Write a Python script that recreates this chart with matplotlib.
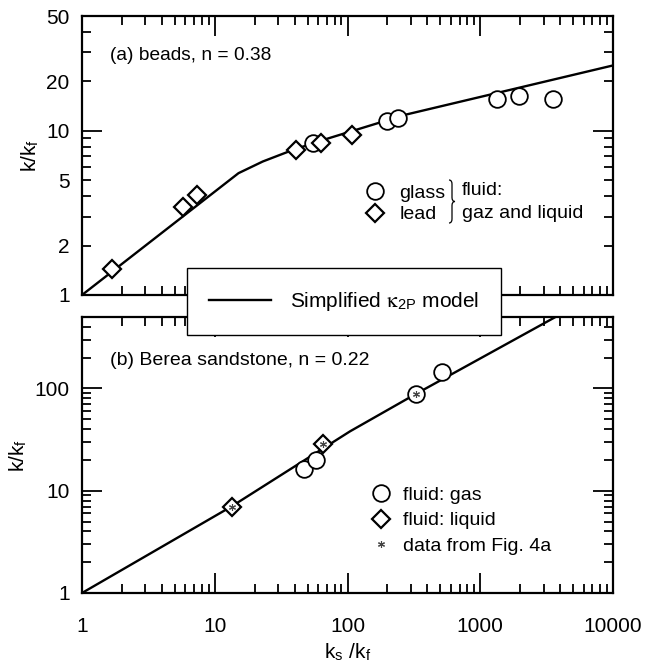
import matplotlib
matplotlib.use("Agg")
import matplotlib.pyplot as plt
from matplotlib.lines import Line2D
from matplotlib.path import Path
from matplotlib.patches import PathPatch
from matplotlib.ticker import FixedLocator, FuncFormatter, NullFormatter

plt.rcParams['font.family'] = ['Liberation Sans', 'DejaVu Sans']
plt.rcParams['mathtext.fontset'] = 'custom'
plt.rcParams['mathtext.rm'] = 'STIXGeneral'
plt.rcParams['mathtext.it'] = 'STIXGeneral:italic'
plt.rcParams['mathtext.sf'] = 'Liberation Sans'

# (a) beads, n = 0.38
glass_x = [54.7, 197, 239, 1330, 1960, 3550]
glass_y = [8.48, 11.4, 11.9, 15.7, 16.4, 15.7]
lead_x = [1.67, 5.73, 7.31, 40.7, 63.2, 108.7]
lead_y = [1.43, 3.45, 4.07, 7.59, 8.41, 9.46]
model_a_x = [1, 15.1, 23, 39, 72, 270, 10000]
model_a_y = [1, 5.52, 6.5, 7.66, 9.0, 12.5, 25]

# (b) Berea sandstone, n = 0.22
gas_x = [47, 57.6, 326, 512]
gas_y = [16.3, 19.8, 89.3, 145]
liquid_x = [13.4, 65]
liquid_y = [7.0, 28.9]
fig4a_x = [13.4, 65, 326]
fig4a_y = [7.0, 28.9, 89.3]
model_b_x = [1, 13.4, 104.5, 322, 3770, 10000]
model_b_y = [1, 7.03, 38.1, 87.4, 508, 1030]

x_ticks = [1, 10, 100, 1000, 10000]
x_ticklabels = ['1', '10', '100', '1000', '10000']

W, H = 646, 664
fig = plt.figure(figsize=(W / 100, H / 100), dpi=100)

def px_axes(l, t, r, b):
    return fig.add_axes([l / W, 1 - b / H, (r - l) / W, (b - t) / H])

ax1 = px_axes(82, 16, 613, 295)
ax2 = px_axes(82, 317, 613, 593)

FS_TICK = 15
FS_TXT = 14
mk = dict(linestyle='none', markerfacecolor='white', markeredgecolor='black')
circ = dict(marker='o', markersize=12, markeredgewidth=1.3)
diam = dict(marker='D', markersize=9, markeredgewidth=1.6)
star = dict(linestyle='none', marker=(6, 2, 0), markersize=5,
            markeredgewidth=0.8, color='#444444')


def minor_decades(lo, hi):
    vals = []
    d = lo
    while d < hi:
        for m in range(2, 10):
            v = m * d
            if v <= hi:
                vals.append(v)
        d *= 10
    return vals


def style_axes(ax, ylim, ymajor, ylabels_minor=()):
    ax.set_xscale('log')
    ax.set_yscale('log')
    ax.set_xlim(1, 10000)
    ax.set_ylim(*ylim)
    ax.xaxis.set_major_locator(FixedLocator(x_ticks))
    ax.xaxis.set_minor_locator(FixedLocator(minor_decades(1, 10000)))
    ax.xaxis.set_major_formatter(FuncFormatter(
        lambda v, p: x_ticklabels[x_ticks.index(round(v))] if round(v) in x_ticks else ''))
    ax.xaxis.set_minor_formatter(NullFormatter())
    ax.yaxis.set_major_locator(FixedLocator(ymajor))
    ax.yaxis.set_minor_locator(FixedLocator(minor_decades(ylim[0], ylim[1])))
    ax.yaxis.set_major_formatter(FuncFormatter(lambda v, p: f'{v:g}'))
    ax.yaxis.set_minor_formatter(FuncFormatter(
        lambda v, p: f'{v:g}' if any(abs(v - s) < 1e-6 for s in ylabels_minor) else ''))
    ax.tick_params(which='both', direction='in', top=True, right=True,
                   width=1.3, labelsize=FS_TICK)
    ax.tick_params(which='major', length=14.5)
    ax.tick_params(which='minor', length=6.5)
    ax.tick_params(axis='y', which='both', pad=9)
    ax.tick_params(axis='x', which='both', pad=17)
    for s in ax.spines.values():
        s.set_linewidth(1.6)
    ax.set_ylabel(r'k/k$_\mathregular{f}$', fontsize=FS_TICK, labelpad=4)


def right_brace(ax, x0, y_top, y_bot, width):
    """Thin right curly brace, given in pixel offsets and mapped to axes fractions."""
    ym = (y_top + y_bot) / 2
    xm = x0 + width / 2
    xt = x0 + width
    pts_px = [
        (x0, y_top), (xm, y_top), (xm, y_top + 4),
        (xm, ym - 4),
        (xm, ym), (xt, ym),
        (xm, ym), (xm, ym + 4),
        (xm, y_bot - 4),
        (xm, y_bot), (x0, y_bot),
    ]
    codes = [Path.MOVETO, Path.CURVE3, Path.CURVE3, Path.LINETO,
             Path.CURVE3, Path.CURVE3, Path.CURVE3, Path.CURVE3,
             Path.LINETO, Path.CURVE3, Path.CURVE3]
    pts = [((px - 82) / 531, (295 - py) / 279) for px, py in pts_px]
    ax.add_patch(PathPatch(Path(pts, codes), transform=ax.transAxes,
                           facecolor='none', edgecolor='black', lw=0.9))


# ---- panel (a)
style_axes(ax1, (1, 50), [1, 10], ylabels_minor=(2, 5, 20, 50))
ax1.tick_params(axis='x', which='both', labelbottom=False)
ax1.plot(model_a_x, model_a_y, color='black', lw=1.7, zorder=2)
ax1.plot(glass_x, glass_y, zorder=3, **circ, **mk)
ax1.plot(lead_x, lead_y, zorder=3, **diam, **mk)
ax1.text(0.053, 0.86, '(a) beads, n = 0.38', transform=ax1.transAxes,
         fontsize=13.8, va='center', ha='left')

h_glass = Line2D([], [], **circ, **mk)
h_lead = Line2D([], [], **diam, **mk)
ax1.legend([h_glass, h_lead], ['glass', 'lead'], loc='center left',
           bbox_to_anchor=(0.534, 0.327), frameon=False, fontsize=FS_TXT,
           handlelength=1.0, handletextpad=0.75, labelspacing=0.2, borderpad=0,
           borderaxespad=0)
right_brace(ax1, 449, 180, 223, 6)
ax1.text(0.715, 0.375, 'fluid:', transform=ax1.transAxes, fontsize=FS_TXT,
         va='center', ha='left')
ax1.text(0.715, 0.293, 'gaz and liquid', transform=ax1.transAxes, fontsize=FS_TXT,
         va='center', ha='left')

# ---- panel (b)
style_axes(ax2, (1, 500), [1, 10, 100])
ax2.plot(model_b_x, model_b_y, color='black', lw=1.7, zorder=2)
ax2.plot(gas_x, gas_y, zorder=3, **circ, **mk)
ax2.plot(liquid_x, liquid_y, zorder=3, **diam, **mk)
ax2.plot(fig4a_x, fig4a_y, zorder=4, **star)
ax2.text(0.053, 0.844, '(b) Berea sandstone, n = 0.22', transform=ax2.transAxes,
         fontsize=FS_TXT, va='center', ha='left')
ax2.set_xlabel(r'k$_\mathregular{s}$ /k$_\mathregular{f}$', fontsize=FS_TICK, labelpad=4)

h_gas = Line2D([], [], **circ, **mk)
h_liq = Line2D([], [], **diam, **mk)
h_star = Line2D([], [], **star)
ax2.legend([h_gas, h_liq, h_star], ['fluid: gas', 'fluid: liquid', 'data from Fig. 4a'],
           loc='center left', bbox_to_anchor=(0.544, 0.262), frameon=False,
           fontsize=FS_TXT, handlelength=1.0, handletextpad=0.65, labelspacing=0.4,
           borderpad=0, borderaxespad=0)

# ---- shared model legend straddling both panels
h_model = Line2D([], [], color='black', lw=1.7)
leg = fig.legend([h_model], [r'Simplified $\mathrm{\kappa}_{\mathsf{2P}}$ model'],
                 loc='center', bbox_to_anchor=(344 / W, 1 - 301.5 / H),
                 fontsize=15, handlelength=2.95, handletextpad=0.9,
                 borderpad=1.05, fancybox=False, framealpha=1, edgecolor='black')
leg.get_frame().set_linewidth(1.0)

fig.savefig('out.png', dpi=100, facecolor='white')
